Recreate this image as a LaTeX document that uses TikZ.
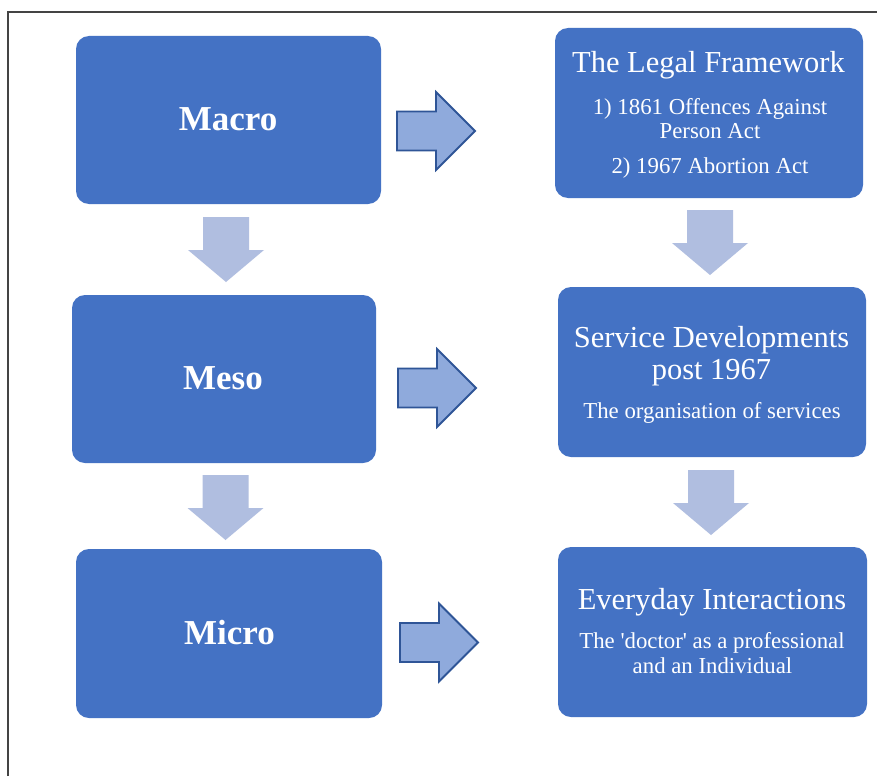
\documentclass[tikz,border=0pt]{standalone}
\usepackage{fontspec}
\setmainfont{Liberation Serif}
\newfontfamily\diagfont{Liberation Serif}
\definecolor{boxblue}{HTML}{4472C4}
\definecolor{arrfill}{HTML}{8FAADC}
\definecolor{arrdraw}{HTML}{2F5597}
\definecolor{downfill}{HTML}{B0BEE0}
\definecolor{bordergray}{HTML}{444444}
\begin{document}
\begin{tikzpicture}[x=1pt,y=-1pt,
  box/.style={fill=boxblue, rounded corners=13pt, inner sep=0pt, draw=none},
  titletext/.style={text=white, font=\diagfont\fontsize{30.5}{30.5}\selectfont, anchor=base, inner sep=0pt},
  subtext/.style={text=white, font=\diagfont\fontsize{22.8}{22.8}\selectfont, anchor=base, inner sep=0pt},
  bigtext/.style={text=white, font=\diagfont\bfseries\fontsize{35}{35}\selectfont, anchor=base, inner sep=0pt},
  rarrow/.style={fill=arrfill, draw=arrdraw, line width=1.8pt, line join=miter},
  darrow/.style={fill=downfill, draw=none},
  rightarrow/.pic={\path[rarrow] (0,-19.5) -- (39,-19.5) -- (39,-39) -- (78,0) -- (39,39) -- (39,19.5) -- (0,19.5) -- cycle;},
  downarrow/.pic={\path[darrow] (-23,0) -- (23,0) -- (23,33) -- (38,33) -- (0,65) -- (-38,33) -- (-23,33) -- cycle;}
]
\useasboundingbox (0,0) rectangle (877,776);
\fill[white] (0,0) rectangle (877,776);
\draw[bordergray, line width=1.5pt] (8,776) -- (8,12) -- (877,12);

% left column boxes
\node[box, minimum width=305pt, minimum height=168pt] (macro) at (228.5,120) {};
\node[box, minimum width=304pt, minimum height=168pt] (meso) at (224,379) {};
\node[box, minimum width=306pt, minimum height=169pt] (micro) at (229,633.5) {};
\node[bigtext] (macrot) at (228,130) {Macro};
\node[bigtext] (mesot) at (223,389) {Meso};
\node[bigtext] (microt) at (229.5,644) {Micro};

% right column boxes
\node[box, minimum width=308pt, minimum height=170pt] (legal) at (709,113) {};
\node[box, minimum width=308pt, minimum height=170pt] (service) at (712,372) {};
\node[box, minimum width=309pt, minimum height=170pt] (everyday) at (712.5,632) {};

\node[titletext] (legalt) at (708.5,72) {The Legal Framework};
\node[subtext] (legal1) at (710,114) {1) 1861 Offences Against};
\node[subtext] (legal2) at (710,138) {Person Act};
\node[subtext] (legal3) at (710,173) {2) 1967 Abortion Act};

\node[titletext] (servicet) at (711.5,347) {Service Developments};
\node[titletext] (service2) at (711.5,379) {post 1967};
\node[subtext] (service3) at (712,418) {The organisation of services};

\node[titletext] (everydayt) at (712,609) {Everyday Interactions};
\node[subtext] (everyday1) at (712,648) {The 'doctor' as a professional};
\node[subtext] (everyday2) at (712.5,673) {and an Individual};

% block arrows
\pic at (397,131) {rightarrow};
\pic at (398,388) {rightarrow};
\pic at (400,642.5) {rightarrow};

\pic at (226,217) {downarrow};
\pic at (225.5,475) {downarrow};
\pic at (710,210) {downarrow};
\pic at (711,470) {downarrow};
\end{tikzpicture}
\end{document}
